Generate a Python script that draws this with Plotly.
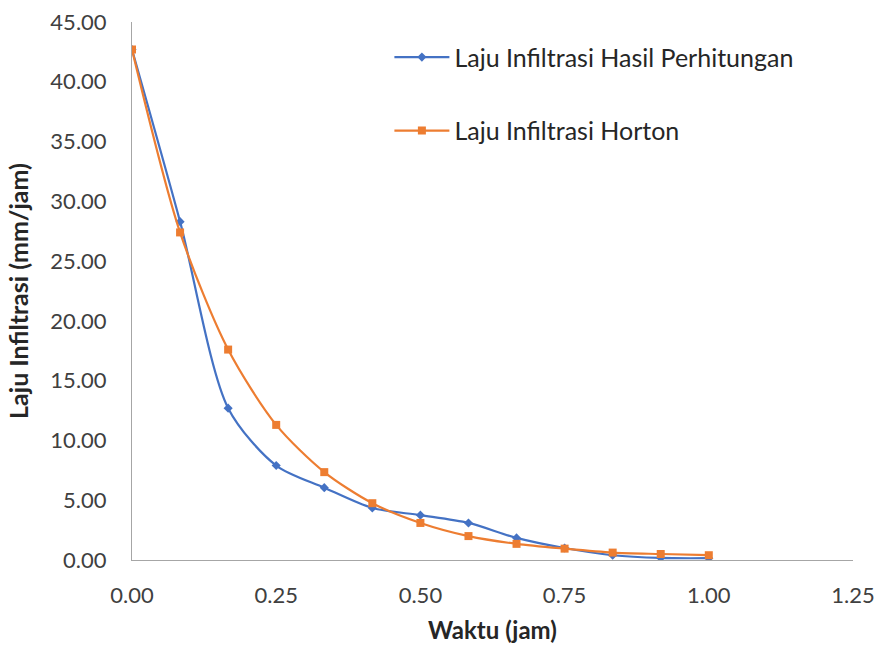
import plotly.graph_objects as go

waktu = [0.0, 1/12, 2/12, 3/12, 4/12, 5/12, 6/12, 7/12, 8/12, 9/12, 10/12, 11/12, 1.0]
laju_hasil = [42.7, 28.3, 12.7, 7.9, 6.05, 4.35, 3.75, 3.1, 1.85, 1.0, 0.4, 0.17, 0.15]
laju_horton = [42.7, 27.4, 17.6, 11.3, 7.35, 4.75, 3.1, 2.0, 1.35, 0.95, 0.62, 0.5, 0.4]

font_fam = "Lato, Open Sans, sans-serif"
fig = go.Figure()
fig.add_trace(go.Scatter(
    x=waktu, y=laju_hasil, mode="lines+markers", name="Laju Infiltrasi Hasil Perhitungan",
    line=dict(color="#4472C4", width=2.2, shape="spline", smoothing=0.8),
    marker=dict(symbol="diamond", size=7, color="#4472C4"), legendgroup="a"))
fig.add_trace(go.Scatter(
    x=waktu, y=laju_horton, mode="lines+markers", name="Laju Infiltrasi Horton",
    line=dict(color="#ED7D31", width=2.2, shape="spline", smoothing=0.8),
    marker=dict(symbol="square", size=8, color="#ED7D31"), legendgroup="b"))

fig.update_layout(
    width=880, height=649,
    margin=dict(l=132, r=27, t=22, b=89),
    plot_bgcolor="white", paper_bgcolor="white",
    font=dict(family=font_fam, size=22, color="#404040"),
    legend=dict(x=0.357, y=0.977, xanchor="left", yanchor="top",
                traceorder="grouped", tracegroupgap=38, itemwidth=55,
                font=dict(size=25, color="#262626"), bgcolor="rgba(0,0,0,0)"),
    xaxis=dict(range=[0, 1.25], dtick=0.25, tick0=0, tickformat=".2f",
               showgrid=False, zeroline=False, showline=True, linecolor="#a6a6a6",
               linewidth=1, ticks="", ticklabelstandoff=16, automargin=False,
               title=dict(text="<b>Waktu (jam)</b>", font=dict(size=24, color="#262626"), standoff=14)),
    yaxis=dict(range=[0, 45], dtick=5, tick0=0, tickformat=".2f",
               showgrid=False, zeroline=False, showline=True, linecolor="#a6a6a6",
               linewidth=1, ticks="", ticklabelstandoff=20, automargin=False,
               title=dict(text="<b>Laju Infiltrasi (mm/jam)</b>", font=dict(size=25, color="#262626"), standoff=14)),
)
fig.write_html("out.html")
